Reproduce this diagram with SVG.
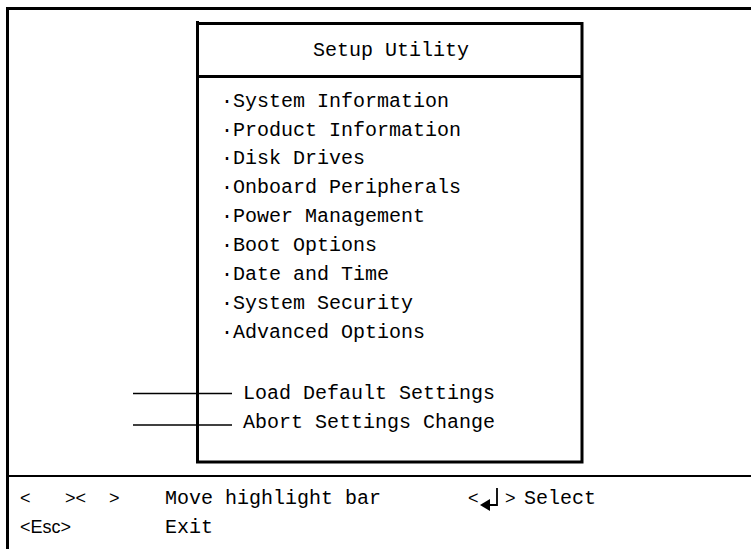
<svg xmlns="http://www.w3.org/2000/svg" width="751" height="549" viewBox="0 0 751 549">
<style>
.frame{fill:none;stroke:#000;stroke-width:3}
.thin{fill:none;stroke:#000;stroke-width:2}
.lead{fill:none;stroke:#000;stroke-width:1.6}
.t{font-family:"Liberation Mono","DejaVu Sans Mono",monospace;font-size:20px;fill:#000}
.s{font-family:"Liberation Sans",Arial,sans-serif;font-size:18px;fill:#000}
</style>
<rect width="751" height="549" fill="#fff"/>
<g id="screen">
<path class="frame" d="M751 8.5H7.5V549"/>
<path class="thin" d="M6 476H751"/>
</g>
<g id="setup-box">
<path class="frame" d="M197.5 21V462H582V23.5H196"/>
<path class="frame" d="M197.5 76.5H582"/>
<text class="t" x="391" y="56" text-anchor="middle">Setup Utility</text>
</g>
<g id="menu">
<text class="t" x="221" y="107">·System Information</text>
<text class="t" x="221" y="136">·Product Information</text>
<text class="t" x="221" y="164">·Disk Drives</text>
<text class="t" x="221" y="193">·Onboard Peripherals</text>
<text class="t" x="221" y="222">·Power Management</text>
<text class="t" x="221" y="251">·Boot Options</text>
<text class="t" x="221" y="280">·Date and Time</text>
<text class="t" x="221" y="309">·System Security</text>
<text class="t" x="221" y="338">·Advanced Options</text>
<text class="t" x="243" y="399">Load Default Settings</text>
<text class="t" x="243" y="428">Abort Settings Change</text>
</g>
<g id="connectors">
<path class="lead" d="M133 393.5H232"/>
<path class="lead" d="M133 425H232"/>
</g>
<g id="footer">
<text class="s" x="20" y="504">&lt;</text>
<text class="s" x="65" y="504">&gt;&lt;</text>
<text class="s" x="109" y="504">&gt;</text>
<text class="t" x="165" y="504">Move highlight bar</text>
<text class="s" x="468" y="504">&lt;</text>
<path d="M497 488V505H489" fill="none" stroke="#000" stroke-width="1.8"/>
<polygon points="480,505 490,499 490,511" fill="#000"/>
<text class="s" x="505" y="504">&gt;</text>
<text class="t" x="524" y="504">Select</text>
<text class="s" x="20" y="533">&lt;Esc&gt;</text>
<text class="t" x="165" y="533">Exit</text>
</g>
</svg>
